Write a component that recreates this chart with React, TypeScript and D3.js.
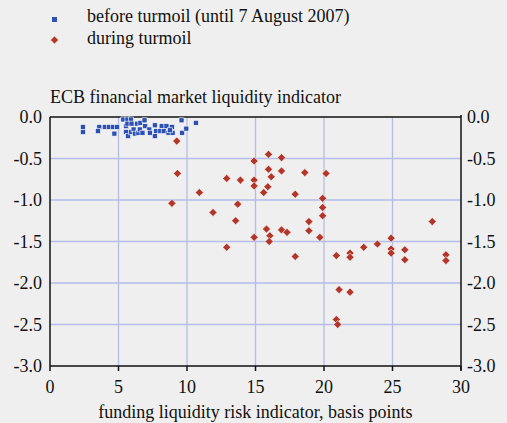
import React from 'react';
import * as d3 from 'd3';

// [funding liquidity risk (bp), ECB liquidity indicator]
const beforeTurmoil: [number, number][] = [
  [2.4, -0.12], [2.4, -0.18], [3.6, -0.12], [3.5, -0.17], [4.0, -0.12], [4.3, -0.12],
  [4.6, -0.12], [4.9, -0.12], [4.7, -0.2], [5.35, -0.03], [5.65, -0.03], [5.9, -0.03],
  [5.55, -0.11], [5.65, -0.08], [5.95, -0.08], [6.35, -0.08], [6.6, -0.07], [6.9, -0.04],
  [5.55, -0.18], [5.7, -0.23], [5.9, -0.18], [6.1, -0.15], [6.2, -0.2], [6.45, -0.19],
  [6.55, -0.15], [6.75, -0.19], [6.95, -0.11], [7.25, -0.15], [7.3, -0.19], [7.65, -0.1],
  [7.75, -0.17], [8.05, -0.17], [7.65, -0.23], [8.15, -0.11], [8.3, -0.17], [8.5, -0.11],
  [8.65, -0.19], [8.9, -0.12], [8.95, -0.19], [8.75, -0.16], [9.6, -0.04], [9.65, -0.19],
  [9.95, -0.14], [10.65, -0.07],
];

const duringTurmoil: [number, number][] = [
  [9.25, -0.29], [9.3, -0.68], [10.9, -0.91], [8.9, -1.04], [15.95, -0.45], [16.9, -0.49],
  [14.9, -0.53], [15.95, -0.63], [16.9, -0.65], [18.6, -0.67], [20.15, -0.68], [12.9, -0.74],
  [13.9, -0.76], [14.9, -0.76], [16.15, -0.72], [14.9, -0.83], [15.9, -0.84], [15.6, -0.91],
  [17.9, -0.93], [19.9, -0.98], [19.9, -1.09], [19.9, -1.19], [13.7, -1.05], [11.9, -1.15],
  [13.55, -1.25], [18.9, -1.26], [15.8, -1.35], [16.9, -1.36], [17.3, -1.39], [18.9, -1.37],
  [16.05, -1.43], [16.0, -1.5], [14.9, -1.45], [19.7, -1.45], [12.9, -1.57], [17.9, -1.68],
  [27.9, -1.26], [24.9, -1.46], [23.9, -1.53], [22.9, -1.57], [24.9, -1.59], [21.9, -1.64],
  [21.9, -1.69], [20.9, -1.67], [25.9, -1.6], [25.9, -1.72], [24.9, -1.64], [28.9, -1.66],
  [28.9, -1.73], [21.1, -2.08], [21.9, -2.11], [20.9, -2.44], [21.0, -2.5],
];

const xTicks = [0, 5, 10, 15, 20, 25, 30];
const yTicks = [0, -0.5, -1, -1.5, -2, -2.5, -3];

const seriesLabels = ['before turmoil (until 7 August 2007)', 'during turmoil'];
const chartTitle = 'ECB financial market liquidity indicator';
const xAxisTitle = 'funding liquidity risk indicator, basis points';

const W = 507;
const H = 423;
const margin = { top: 117, right: 46, bottom: 57, left: 50 };
const blue = '#2c50b4';
const red = '#b3362b';
const grid = '#b5bde8';
const font = 'Liberation Serif, Times New Roman, serif';
const fs = 18;

const diamond = d3.symbol().type(d3.symbolDiamond2).size(42)() as string;
const fmt = (t: number) => d3.format('.1f')(t).replace('−', '-');

export default function App() {
  const x = d3.scaleLinear().domain([0, 30]).range([margin.left, W - margin.right]);
  const y = d3.scaleLinear().domain([0, -3]).range([margin.top, H - margin.bottom]);
  const [x0, x1] = x.range();
  const [y0, y1] = y.range();

  return (
    <svg width={W} height={H} style={{ position: 'absolute', left: 0, top: 0 }} fontFamily={font}>
      <rect width={W} height={H} fill="#efefef" />

      {/* legend */}
      <rect x={52} y={17} width={5} height={5} fill={blue} />
      <path d={diamond} transform="translate(54.5,40)" fill={red} stroke="#fff" strokeWidth={0.6} />
      <text x={87} y={22} fontSize={fs} fill="#111">{seriesLabels[0]}</text>
      <text x={87} y={44} fontSize={fs} fill="#111">{seriesLabels[1]}</text>

      <text x={50} y={103} fontSize={fs} fill="#111">{chartTitle}</text>

      {/* grid */}
      {xTicks.slice(1, -1).map(t => (
        <line key={'gx' + t} x1={x(t)} x2={x(t)} y1={y0} y2={y1} stroke={grid} strokeWidth={1.3} />
      ))}
      {yTicks.slice(1, -1).map(t => (
        <line key={'gy' + t} x1={x0} x2={x1} y1={y(t)} y2={y(t)} stroke={grid} strokeWidth={1.3} />
      ))}

      {/* frame */}
      <line x1={x0} x2={x1} y1={y0} y2={y0} stroke="#111" strokeWidth={1.5} />
      <line x1={x0} x2={x0} y1={y0} y2={y1} stroke="#111" strokeWidth={1.5} />
      <line x1={x1} x2={x1} y1={y0 - 2} y2={y1 + 4} stroke="#111" strokeWidth={1.5} />
      <line x1={x0} x2={x1} y1={y1} y2={y1} stroke="#111" strokeWidth={1.5} />
      {xTicks.map(t => (
        <line key={'tx' + t} x1={x(t)} x2={x(t)} y1={y1} y2={y1 + 5} stroke="#111" strokeWidth={1.5} />
      ))}

      {/* tick labels */}
      {xTicks.map(t => (
        <text key={'lx' + t} x={x(t)} y={y1 + 27} fontSize={fs} textAnchor="middle" fill="#111">{t}</text>
      ))}
      {yTicks.map(t => (
        <text key={'ly' + t} x={x0 - 8} y={y(t) + 6} fontSize={fs} textAnchor="end" fill="#111">{fmt(t)}</text>
      ))}
      {yTicks.map(t => (
        <text key={'ry' + t} x={x1 + 6} y={y(t) + 6} fontSize={fs} fill="#111">{fmt(t)}</text>
      ))}

      <text x={(x0 + x1) / 2} y={418} fontSize={fs} textAnchor="middle" fill="#111">{xAxisTitle}</text>

      {/* points */}
      {beforeTurmoil.map(([a, b], i) => (
        <rect key={'b' + i} x={x(a) - 2.5} y={y(b) - 2.5} width={5} height={5} fill={blue} stroke="#fff" strokeWidth={0.6} />
      ))}
      {duringTurmoil.map(([a, b], i) => (
        <path key={'d' + i} d={diamond} transform={`translate(${x(a)},${y(b)})`} fill={red} stroke="#fff" strokeWidth={0.6} />
      ))}
    </svg>
  );
}
